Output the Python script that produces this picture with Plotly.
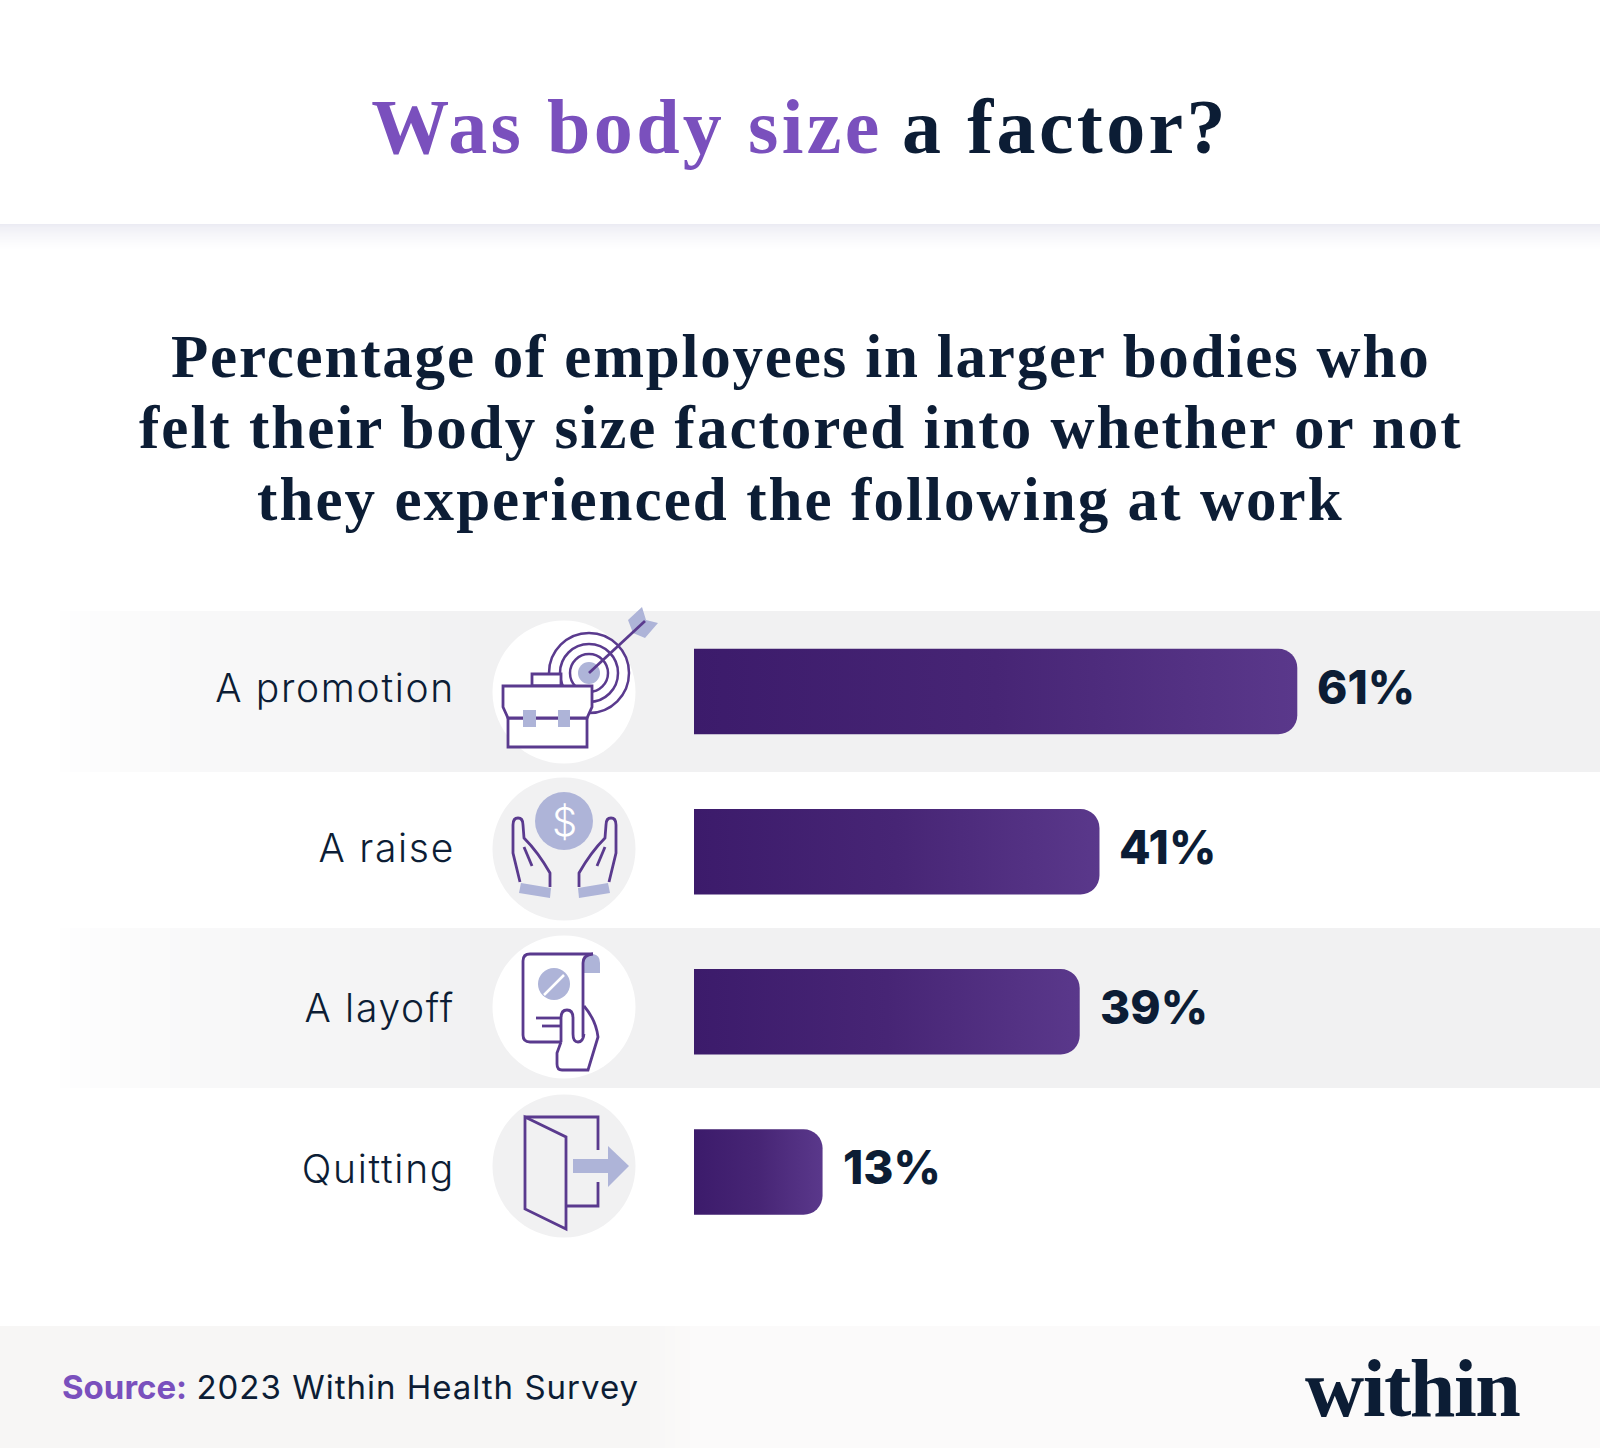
import plotly.graph_objects as go

W, H = 1600, 1448

categories = ["A promotion", "A raise", "A layoff", "Quitting"]
percentages = [61, 41, 39, 13]

INK = "#0c1d35"
PURPLE = "#7a50bd"
LINE = "#5a3a8e"
LAV = "#aeb4d8"
GREY = "#f1f1f2"
SERIF = "Liberation Serif"
SANS = "Inter"


def X(v):
    return v / W


def Y(v):
    return 1 - v / H


def hexmix(a, b, t):
    ca = [int(a[i:i + 2], 16) for i in (1, 3, 5)]
    cb = [int(b[i:i + 2], 16) for i in (1, 3, 5)]
    return "#" + "".join(f"{round(p + (q - p) * t):02x}" for p, q in zip(ca, cb))


shapes = []


def rect(x0, y0, x1, y1, color):
    shapes.append(dict(type="rect", xref="paper", yref="paper", layer="below",
                       x0=X(x0), x1=X(x1), y0=Y(y0), y1=Y(y1),
                       fillcolor=color, line_width=0))


def circle(cx, cy, r, fill=None, line=None, width=2.5):
    shapes.append(dict(type="circle", xref="paper", yref="paper", layer="below",
                       x0=X(cx - r), x1=X(cx + r), y0=Y(cy - r), y1=Y(cy + r),
                       fillcolor=fill if fill else "rgba(0,0,0,0)",
                       line=dict(color=line if line else "rgba(0,0,0,0)",
                                 width=width if line else 0)))


def path(cmds, fill=None, line=LINE, width=2.8):
    out = []
    for c in cmds:
        if len(c) == 1:
            out.append(c[0])
        else:
            nums = c[1:]
            pts = [f"{X(nums[i]):.5f},{Y(nums[i + 1]):.5f}" for i in range(0, len(nums), 2)]
            out.append(c[0] + " " + " ".join(pts))
    shapes.append(dict(type="path", xref="paper", yref="paper", layer="below",
                       path=" ".join(out),
                       fillcolor=fill if fill else "rgba(0,0,0,0)",
                       line=dict(color=line if line else "rgba(0,0,0,0)",
                                 width=width if line else 0)))


def poly(points, fill=None, line=LINE, close=True, width=2.8):
    cmds = [("M", *points[0])] + [("L", *p) for p in points[1:]]
    if close:
        cmds.append(("Z",))
    path(cmds, fill, line, width)


# header shadow
for i in range(26):
    rect(0, 224 + i, W, 225 + i, hexmix("#ebebf3", "#ffffff", (i / 25) ** 0.7))

# row bands, fading in on the left
for top, bot in [(611, 772), (928, 1088)]:
    rect(500, top, W, bot, GREY)
    for i in range(44):
        t = (i + 1) / 44
        rect(60 + i * 10, top, 70 + i * 10, bot, hexmix("#ffffff", GREY, t ** 0.7))

# footer band
rect(0, 1326, 640, H, "#f7f6f5")
for i in range(12):
    rect(640 + i * 5, 1326, 645 + i * 5, H, hexmix("#f7f6f5", "#fbfafa", i / 11))
rect(700, 1326, W, H, "#fbfafa")

# icon discs
circle(564, 692, 71.5, "#ffffff")
circle(564, 849, 71.5, GREY)
circle(564, 1007, 71.5, "#ffffff")
circle(564, 1166, 71.5, GREY)

# target + briefcase
circle(589, 673, 40, None, LINE)
circle(589, 673, 29, None, LINE)
circle(589, 673, 19, None, LINE)
circle(589, 673, 11, LAV)
poly([(628, 620), (642, 607), (646, 620), (658, 623), (645, 638), (633, 633)], LAV, None)
poly([(589, 673), (645, 621)], None, LINE, close=False)
poly([(532, 686), (532, 674), (561, 674), (561, 686)], "#ffffff")
poly([(508, 718), (508, 747), (587, 747), (587, 718)], "#ffffff")
poly([(503, 686), (592, 686), (592, 707), (587, 718), (508, 718), (503, 707)], "#ffffff")
rect(523, 710, 536, 727, LAV)
rect(558, 710, 570, 727, LAV)

# coin + hands
circle(564, 821, 29, LAV)
for mirror in (False, True):
    mx = (lambda v: 1129 - v) if mirror else (lambda v: v)
    poly([(mx(521), 883), (mx(551), 888), (mx(550), 898), (mx(519), 893)], LAV, None)
    path([("M", mx(520), 882), ("L", mx(513), 853), ("L", mx(513), 825),
          ("Q", mx(513), 818, mx(518), 818), ("Q", mx(523), 818, mx(523), 825),
          ("L", mx(524), 838), ("Q", mx(538), 852, mx(550), 873), ("L", mx(550), 887)])
    poly([(mx(524), 847), (mx(532), 866)], None, LINE, close=False)

# prescription + hand
path([("M", 593, 954), ("L", 530, 954), ("Q", 523, 954, 523, 961), ("L", 523, 1035),
      ("Q", 523, 1042, 530, 1042), ("L", 560, 1042)])
path([("M", 593, 954), ("Q", 600, 955, 600, 963), ("L", 600, 973), ("L", 583, 973),
      ("L", 583, 963), ("Q", 584, 954, 593, 954), ("Z",)], LAV, None)
path([("M", 593, 954), ("Q", 583, 955, 583, 963), ("L", 583, 1037)])
circle(554, 984, 16, LAV)
poly([(544, 995), (564, 975)], None, "#ffffff", close=False, width=2.5)
poly([(536, 1018), (560, 1018)], None, LINE, close=False)
poly([(542, 1026), (560, 1026)], None, LINE, close=False)
path([("M", 561, 1042), ("L", 561, 1018), ("Q", 561, 1010, 567, 1010),
      ("Q", 573, 1010, 573, 1018), ("L", 573, 1034), ("Q", 573, 1042, 578, 1042),
      ("Q", 583, 1042, 584, 1034)])
path([("M", 584, 1006), ("Q", 596, 1020, 598, 1037), ("L", 588, 1070), ("L", 562, 1070),
      ("Q", 557, 1070, 557, 1064), ("L", 557, 1053), ("L", 561, 1042)])

# door + arrow
poly([(598, 1150), (598, 1117), (525, 1117)], None, LINE, close=False)
poly([(598, 1182), (598, 1206), (566, 1206)], None, LINE, close=False)
poly([(525, 1117), (566, 1137), (566, 1229), (525, 1209)])
rect(573, 1159, 608, 1173, LAV)
poly([(608, 1146), (629, 1166), (608, 1187)], LAV, None)


def spaced(txt, px, color=None):
    col = f"color:{color};" if color else ""
    return f"<span style='{col}letter-spacing:{px}px'>{txt}</span>"


sub_lines = [
    ("Percentage of employees in larger bodies who", 356, 1.8),
    ("felt their body size factored into whether or not", 428, 2.0),
    ("they experienced the following at work", 500, 2.07),
]
annotations = [dict(text=spaced(t, ls), x=0.5, y=Y(yy), xref="paper", yref="paper",
                    xanchor="center", yanchor="middle", showarrow=False,
                    font=dict(family=SERIF, size=61, color=INK, weight=700))
               for t, yy, ls in sub_lines]
annotations += [
    dict(text=f"<b style='color:{PURPLE}'>Source:</b> " + spaced("2023 Within Health Survey", 1.0),
         x=X(60), y=Y(1387), xref="paper", yref="paper", xanchor="left", yanchor="middle",
         showarrow=False, font=dict(family=SANS, size=33, color=INK)),
    dict(text=spaced("within", -1.5), x=X(1412), y=Y(1388), xref="paper", yref="paper",
         xanchor="center", yanchor="middle", showarrow=False,
         font=dict(family=SERIF, size=82, color=INK, weight=700)),
    dict(text="$", x=X(564), y=Y(821), xref="paper", yref="paper",
         xanchor="center", yanchor="middle", showarrow=False,
         font=dict(family=SANS, size=40, color="#ffffff", weight=300)),
]
# value labels, placed from the data
annotations += [dict(text=f"{v}%", x=v, y=c, xref="x", yref="y",
                     xanchor="left", yanchor="middle", showarrow=False,
                     xshift=18, yshift=5,
                     font=dict(family=SANS, size=46, color=INK, weight=800))
                for c, v in zip(categories, percentages)]

fig = go.Figure(go.Bar(
    y=categories, x=percentages, orientation="h",
    marker=dict(color="#4b2a7c", line_width=0),
    hoverinfo="skip",
))

fig.update_layout(
    width=W, height=H, autosize=False,
    margin=dict(l=0, r=0, t=0, b=0),
    paper_bgcolor="#ffffff", plot_bgcolor="rgba(0,0,0,0)",
    showlegend=False, bargap=0.466, barcornerradius=19,
    title=dict(
        text=spaced("Was body size", 3.33, PURPLE) + " " + spaced("a factor?", 3.33),
        x=0.5, xanchor="center", xref="paper", y=Y(126), yanchor="middle", yref="paper",
        font=dict(family=SERIF, size=78, color=INK, weight=700),
    ),
    xaxis=dict(domain=[X(694), 1], range=[0, (W - 694) / 9.89], visible=False, fixedrange=True),
    yaxis=dict(domain=[Y(1252), Y(611.5)], range=[3.5, -0.5], type="category",
               categoryorder="array", categoryarray=categories,
               tickmode="array", tickvals=categories,
               ticktext=[spaced(c, 1.7) for c in categories],
               showgrid=False, zeroline=False, showline=False, ticks="",
               ticklabelstandoff=238, ticklabelshift=3, fixedrange=True,
               tickfont=dict(family=SANS, size=39, color=INK, weight=300)),
    shapes=shapes, annotations=annotations,
)

post = """
document.documentElement.style.overflow = 'hidden';
document.body.style.margin = '0';
(function () {
  var gd = document.getElementById('{plot_id}');
  var NS = 'http://www.w3.org/2000/svg';
  function paint() {
    var defs = gd.querySelector('svg.main-svg defs');
    if (defs && !document.getElementById('barGrad')) {
      var g = document.createElementNS(NS, 'linearGradient');
      g.setAttribute('id', 'barGrad');
      g.setAttribute('x1', '0'); g.setAttribute('x2', '1');
      g.setAttribute('y1', '0'); g.setAttribute('y2', '0');
      [['0', '#3c1b6b'], ['0.5', '#472575'], ['1', '#5a388b']].forEach(function (s) {
        var e = document.createElementNS(NS, 'stop');
        e.setAttribute('offset', s[0]); e.setAttribute('stop-color', s[1]);
        g.appendChild(e);
      });
      defs.appendChild(g);
    }
    gd.querySelectorAll('.barlayer .point path').forEach(function (p) {
      p.style.fill = 'url(#barGrad)';
    });
  }
  paint();
  if (gd.on) gd.on('plotly_afterplot', paint);
})();
"""
fig.write_html("out.html", post_script=post, config=dict(displayModeBar=False, responsive=False))
